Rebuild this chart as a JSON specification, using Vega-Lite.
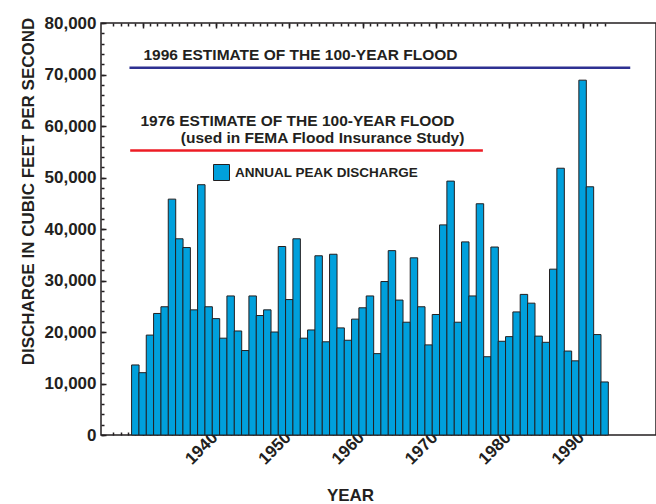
{
  "$schema": "https://vega.github.io/schema/vega-lite/v6.json",
  "width": 555,
  "height": 412,
  "autosize": {"type": "none"},
  "padding": {"left": 101, "top": 23, "right": 0, "bottom": 69},
  "background": "white",
  "config": {
    "view": {"stroke": "#231f20", "strokeWidth": 1.5},
    "font": "Liberation Sans",
    "axis": {"grid": false, "ticks": true, "domain": false, "tickColor": "#231f20", "tickWidth": 1.5, "labelColor": "#231f20", "titleColor": "#231f20", "labelFont": "Liberation Sans", "titleFont": "Liberation Sans", "labelFontWeight": "bold", "titleFontWeight": "bold"}
  },
  "datasets": {
    "peaks": [
      {"year": 1929, "discharge": 13600, "series": "ANNUAL PEAK DISCHARGE"},
      {"year": 1930, "discharge": 12100, "series": "ANNUAL PEAK DISCHARGE"},
      {"year": 1931, "discharge": 19400, "series": "ANNUAL PEAK DISCHARGE"},
      {"year": 1932, "discharge": 23600, "series": "ANNUAL PEAK DISCHARGE"},
      {"year": 1933, "discharge": 24900, "series": "ANNUAL PEAK DISCHARGE"},
      {"year": 1934, "discharge": 45800, "series": "ANNUAL PEAK DISCHARGE"},
      {"year": 1935, "discharge": 38100, "series": "ANNUAL PEAK DISCHARGE"},
      {"year": 1936, "discharge": 36400, "series": "ANNUAL PEAK DISCHARGE"},
      {"year": 1937, "discharge": 24300, "series": "ANNUAL PEAK DISCHARGE"},
      {"year": 1938, "discharge": 48600, "series": "ANNUAL PEAK DISCHARGE"},
      {"year": 1939, "discharge": 24900, "series": "ANNUAL PEAK DISCHARGE"},
      {"year": 1940, "discharge": 22600, "series": "ANNUAL PEAK DISCHARGE"},
      {"year": 1941, "discharge": 18800, "series": "ANNUAL PEAK DISCHARGE"},
      {"year": 1942, "discharge": 27000, "series": "ANNUAL PEAK DISCHARGE"},
      {"year": 1943, "discharge": 20200, "series": "ANNUAL PEAK DISCHARGE"},
      {"year": 1944, "discharge": 16400, "series": "ANNUAL PEAK DISCHARGE"},
      {"year": 1945, "discharge": 27000, "series": "ANNUAL PEAK DISCHARGE"},
      {"year": 1946, "discharge": 23200, "series": "ANNUAL PEAK DISCHARGE"},
      {"year": 1947, "discharge": 24300, "series": "ANNUAL PEAK DISCHARGE"},
      {"year": 1948, "discharge": 20000, "series": "ANNUAL PEAK DISCHARGE"},
      {"year": 1949, "discharge": 36600, "series": "ANNUAL PEAK DISCHARGE"},
      {"year": 1950, "discharge": 26300, "series": "ANNUAL PEAK DISCHARGE"},
      {"year": 1951, "discharge": 38100, "series": "ANNUAL PEAK DISCHARGE"},
      {"year": 1952, "discharge": 18800, "series": "ANNUAL PEAK DISCHARGE"},
      {"year": 1953, "discharge": 20400, "series": "ANNUAL PEAK DISCHARGE"},
      {"year": 1954, "discharge": 34800, "series": "ANNUAL PEAK DISCHARGE"},
      {"year": 1955, "discharge": 18100, "series": "ANNUAL PEAK DISCHARGE"},
      {"year": 1956, "discharge": 35100, "series": "ANNUAL PEAK DISCHARGE"},
      {"year": 1957, "discharge": 20800, "series": "ANNUAL PEAK DISCHARGE"},
      {"year": 1958, "discharge": 18400, "series": "ANNUAL PEAK DISCHARGE"},
      {"year": 1959, "discharge": 22500, "series": "ANNUAL PEAK DISCHARGE"},
      {"year": 1960, "discharge": 24700, "series": "ANNUAL PEAK DISCHARGE"},
      {"year": 1961, "discharge": 27000, "series": "ANNUAL PEAK DISCHARGE"},
      {"year": 1962, "discharge": 15800, "series": "ANNUAL PEAK DISCHARGE"},
      {"year": 1963, "discharge": 29800, "series": "ANNUAL PEAK DISCHARGE"},
      {"year": 1964, "discharge": 35800, "series": "ANNUAL PEAK DISCHARGE"},
      {"year": 1965, "discharge": 26200, "series": "ANNUAL PEAK DISCHARGE"},
      {"year": 1966, "discharge": 21900, "series": "ANNUAL PEAK DISCHARGE"},
      {"year": 1967, "discharge": 34400, "series": "ANNUAL PEAK DISCHARGE"},
      {"year": 1968, "discharge": 24900, "series": "ANNUAL PEAK DISCHARGE"},
      {"year": 1969, "discharge": 17500, "series": "ANNUAL PEAK DISCHARGE"},
      {"year": 1970, "discharge": 23400, "series": "ANNUAL PEAK DISCHARGE"},
      {"year": 1971, "discharge": 40800, "series": "ANNUAL PEAK DISCHARGE"},
      {"year": 1972, "discharge": 49300, "series": "ANNUAL PEAK DISCHARGE"},
      {"year": 1973, "discharge": 21900, "series": "ANNUAL PEAK DISCHARGE"},
      {"year": 1974, "discharge": 37500, "series": "ANNUAL PEAK DISCHARGE"},
      {"year": 1975, "discharge": 27000, "series": "ANNUAL PEAK DISCHARGE"},
      {"year": 1976, "discharge": 44900, "series": "ANNUAL PEAK DISCHARGE"},
      {"year": 1977, "discharge": 15200, "series": "ANNUAL PEAK DISCHARGE"},
      {"year": 1978, "discharge": 36500, "series": "ANNUAL PEAK DISCHARGE"},
      {"year": 1979, "discharge": 18200, "series": "ANNUAL PEAK DISCHARGE"},
      {"year": 1980, "discharge": 19100, "series": "ANNUAL PEAK DISCHARGE"},
      {"year": 1981, "discharge": 23900, "series": "ANNUAL PEAK DISCHARGE"},
      {"year": 1982, "discharge": 27300, "series": "ANNUAL PEAK DISCHARGE"},
      {"year": 1983, "discharge": 25600, "series": "ANNUAL PEAK DISCHARGE"},
      {"year": 1984, "discharge": 19200, "series": "ANNUAL PEAK DISCHARGE"},
      {"year": 1985, "discharge": 18000, "series": "ANNUAL PEAK DISCHARGE"},
      {"year": 1986, "discharge": 32200, "series": "ANNUAL PEAK DISCHARGE"},
      {"year": 1987, "discharge": 51800, "series": "ANNUAL PEAK DISCHARGE"},
      {"year": 1988, "discharge": 16300, "series": "ANNUAL PEAK DISCHARGE"},
      {"year": 1989, "discharge": 14400, "series": "ANNUAL PEAK DISCHARGE"},
      {"year": 1990, "discharge": 68900, "series": "ANNUAL PEAK DISCHARGE"},
      {"year": 1991, "discharge": 48200, "series": "ANNUAL PEAK DISCHARGE"},
      {"year": 1992, "discharge": 19500, "series": "ANNUAL PEAK DISCHARGE"},
      {"year": 1993, "discharge": 10300, "series": "ANNUAL PEAK DISCHARGE"}
    ],
    "floods": [
      {"estimate": "1996", "start": 1928.2, "end": 1996.5, "discharge": 71300},
      {"estimate": "1976", "start": 1928.3, "end": 1976.4, "discharge": 55260}
    ],
    "notes": [
      {"year": 1930.1, "discharge": 72900, "text": "1996 ESTIMATE OF THE 100-YEAR FLOOD"},
      {"year": 1929.7, "discharge": 60000, "text": "1976 ESTIMATE OF THE 100-YEAR FLOOD"},
      {"year": 1935.2, "discharge": 56750, "text": "(used in FEMA Flood Insurance Study)"}
    ]
  },
  "layer": [
    {
      "data": {"name": "peaks"},
      "mark": {"type": "bar", "width": 7.47, "stroke": "#231f20", "strokeWidth": 1},
      "encoding": {
        "x": {
          "field": "year", "type": "quantitative",
          "scale": {"domain": [1925, 1999.33], "nice": false, "zero": false},
          "axis": {
            "orient": "bottom",
            "values": [1930, 1940, 1950, 1960, 1970, 1980, 1990],
            "format": "d",
            "labelExpr": "datum.value >= 1940 ? datum.label : ''",
            "labelOverlap": false,
            "labelAngle": -45,
            "labelAlign": "right",
            "labelBaseline": "bottom",
            "labelFontSize": 17,
            "labelPadding": 6,
            "labelOffset": 5,
            "tickSize": 5,
            "offset": -5,
            "title": "YEAR",
            "titleX": 249,
            "titleY": 65.5,
            "titleBaseline": "middle",
            "titleAlign": "center",
            "titleFontSize": 17
          }
        },
        "y": {
          "field": "discharge", "type": "quantitative",
          "scale": {"domain": [0, 80000], "nice": false},
          "axis": {
            "values": [0, 10000, 20000, 30000, 40000, 50000, 60000, 70000, 80000],
            "format": ",d",
            "labelOverlap": false,
            "labelFontSize": 17,
            "labelPadding": 5,
            "tickSize": 5,
            "offset": -5,
            "title": "DISCHARGE IN CUBIC FEET PER SECOND",
            "titleX": -78,
            "titleY": 168,
            "titleAngle": -90,
            "titleAlign": "center",
            "titleBaseline": "middle",
            "titleFontSize": 17
          }
        },
        "color": {
          "field": "series", "type": "nominal",
          "scale": {"domain": ["ANNUAL PEAK DISCHARGE"], "range": ["#00a0dc"]},
          "legend": {
            "orient": "none", "legendX": 112, "legendY": 141, "title": null,
            "symbolType": "square", "symbolSize": 256, "symbolStrokeColor": "#231f20",
            "symbolStrokeWidth": 1, "symbolOpacity": 1, "labelFontSize": 13.5, "labelLimit": 0,
            "labelFontWeight": "bold", "labelColor": "#231f20", "labelFont": "Liberation Sans", "labelOffset": 5
          }
        }
      }
    },
    {
      "data": {"name": "peaks"},
      "mark": {"type": "point", "opacity": 0},
      "encoding": {
        "x": {
          "field": "year", "type": "quantitative",
          "axis": {
            "orient": "top",
            "values": [1926,1927,1928,1929,1930,1931,1932,1933,1934,1935,1936,1937,1938,1939,1940,1941,1942,1943,1944,1945,1946,1947,1948,1949,1950,1951,1952,1953,1954,1955,1956,1957,1958,1959,1960,1961,1962,1963,1964,1965,1966,1967,1968,1969,1970,1971,1972,1973,1974,1975,1976,1977,1978,1979,1980,1981,1982,1983,1984,1985,1986,1987,1988,1989,1990,1991,1992,1993],
            "labels": false,
            "tickSize": 3,
            "offset": -3,
            "title": null
          }
        },
        "y": {
          "field": "discharge", "type": "quantitative",
          "axis": {
            "orient": "left",
            "values": [0,2000,4000,6000,8000,10000,12000,14000,16000,18000,20000,22000,24000,26000,28000,30000,32000,34000,36000,38000,40000,42000,44000,46000,48000,50000,52000,54000,56000,58000,60000,62000,64000,66000,68000,70000,72000,74000,76000,78000,80000],
            "labels": false,
            "tickSize": 3,
            "offset": -3,
            "title": null
          }
        }
      }
    },
    {
      "data": {"name": "floods"},
      "transform": [{"filter": "datum.estimate == '1996'"}],
      "mark": {"type": "rule", "color": "#2e3192", "strokeWidth": 2.5},
      "encoding": {
        "x": {
          "field": "start", "type": "quantitative",
          "axis": {
            "orient": "bottom",
            "values": [1926,1927,1928,1929,1930,1931,1932,1933,1934,1935,1936,1937,1938,1939,1940,1941,1942,1943,1944,1945,1946,1947,1948,1949,1950,1951,1952,1953,1954,1955,1956,1957,1958,1959,1960,1961,1962,1963,1964,1965,1966,1967,1968,1969,1970,1971,1972,1973,1974,1975,1976,1977,1978,1979,1980,1981,1982,1983,1984,1985,1986,1987,1988,1989,1990,1991,1992,1993],
            "labels": false,
            "tickSize": 3,
            "offset": -3,
            "title": null
          }
        },
        "x2": {"field": "end"},
        "y": {"field": "discharge", "type": "quantitative", "axis": null}
      }
    },
    {
      "data": {"name": "floods"},
      "transform": [{"filter": "datum.estimate == '1976'"}],
      "mark": {"type": "rule", "color": "#ed1c24", "strokeWidth": 2.5},
      "encoding": {
        "x": {
          "field": "start", "type": "quantitative",
          "axis": {
            "orient": "top",
            "values": [1930, 1940, 1950, 1960, 1970, 1980, 1990],
            "labels": false,
            "tickSize": 5,
            "offset": -5,
            "title": null
          }
        },
        "x2": {"field": "end"},
        "y": {"field": "discharge", "type": "quantitative", "axis": null}
      }
    },
    {
      "data": {"name": "notes"},
      "mark": {"type": "text", "align": "left", "baseline": "alphabetic", "font": "Liberation Sans", "fontWeight": "bold", "fontSize": 15.5, "color": "#231f20"},
      "encoding": {
        "x": {"field": "year", "type": "quantitative", "axis": null},
        "y": {"field": "discharge", "type": "quantitative", "axis": null},
        "text": {"field": "text"}
      }
    }
  ],
  "resolve": {"axis": {"x": "independent", "y": "independent"}}
}
